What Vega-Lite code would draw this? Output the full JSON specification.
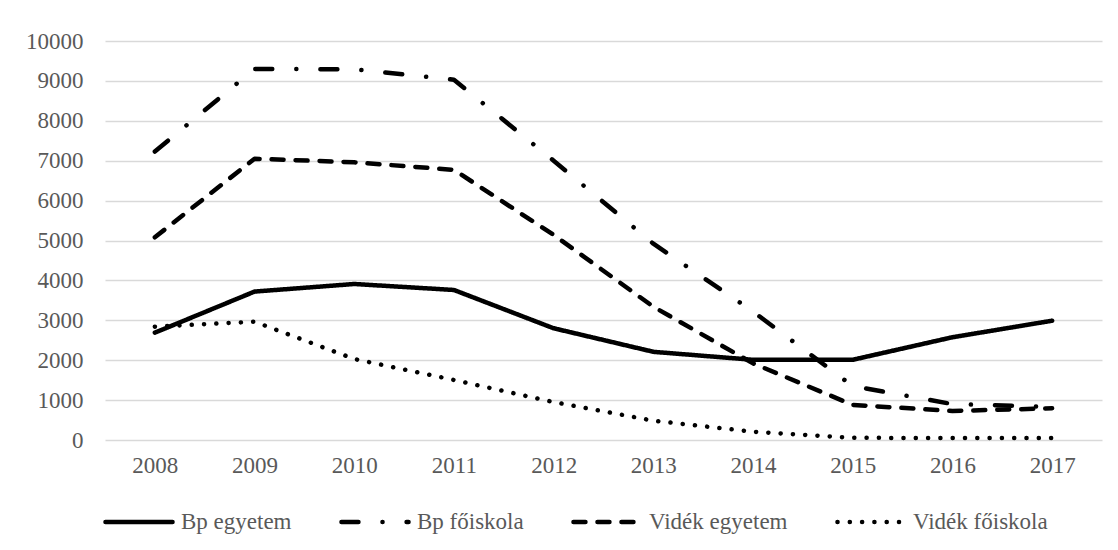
{
  "$schema": "https://vega.github.io/schema/vega-lite/v6.json",
  "width": 997,
  "height": 399,
  "autosize": {"type": "none"},
  "padding": {"left": 105, "top": 41, "right": 16, "bottom": 110},
  "background": "white",
  "config": {
    "font": "Liberation Serif",
    "view": {"stroke": null},
    "axis": {"labelFont": "Liberation Serif", "labelColor": "#595959", "labelFontSize": 23},
    "legend": {"labelFont": "Liberation Serif"}
  },
  "data": {
    "values": [
      {"year": "2008", "series": "Bp egyetem", "value": 2690},
      {"year": "2009", "series": "Bp egyetem", "value": 3720},
      {"year": "2010", "series": "Bp egyetem", "value": 3910},
      {"year": "2011", "series": "Bp egyetem", "value": 3760},
      {"year": "2012", "series": "Bp egyetem", "value": 2800},
      {"year": "2013", "series": "Bp egyetem", "value": 2210},
      {"year": "2014", "series": "Bp egyetem", "value": 2010},
      {"year": "2015", "series": "Bp egyetem", "value": 2010},
      {"year": "2016", "series": "Bp egyetem", "value": 2575},
      {"year": "2017", "series": "Bp egyetem", "value": 2990},
      {"year": "2008", "series": "Bp főiskola", "value": 7230},
      {"year": "2009", "series": "Bp főiskola", "value": 9300},
      {"year": "2010", "series": "Bp főiskola", "value": 9290},
      {"year": "2011", "series": "Bp főiskola", "value": 9030},
      {"year": "2012", "series": "Bp főiskola", "value": 7000},
      {"year": "2013", "series": "Bp főiskola", "value": 4920},
      {"year": "2014", "series": "Bp főiskola", "value": 3220},
      {"year": "2015", "series": "Bp főiskola", "value": 1350},
      {"year": "2016", "series": "Bp főiskola", "value": 900},
      {"year": "2017", "series": "Bp főiskola", "value": 830},
      {"year": "2008", "series": "Vidék egyetem", "value": 5080},
      {"year": "2009", "series": "Vidék egyetem", "value": 7050},
      {"year": "2010", "series": "Vidék egyetem", "value": 6960},
      {"year": "2011", "series": "Vidék egyetem", "value": 6770},
      {"year": "2012", "series": "Vidék egyetem", "value": 5140},
      {"year": "2013", "series": "Vidék egyetem", "value": 3340},
      {"year": "2014", "series": "Vidék egyetem", "value": 1920},
      {"year": "2015", "series": "Vidék egyetem", "value": 880},
      {"year": "2016", "series": "Vidék egyetem", "value": 727},
      {"year": "2017", "series": "Vidék egyetem", "value": 794},
      {"year": "2008", "series": "Vidék főiskola", "value": 2840},
      {"year": "2009", "series": "Vidék főiskola", "value": 2965},
      {"year": "2010", "series": "Vidék főiskola", "value": 2030},
      {"year": "2011", "series": "Vidék főiskola", "value": 1504},
      {"year": "2012", "series": "Vidék főiskola", "value": 950},
      {"year": "2013", "series": "Vidék főiskola", "value": 484},
      {"year": "2014", "series": "Vidék főiskola", "value": 208},
      {"year": "2015", "series": "Vidék főiskola", "value": 55},
      {"year": "2016", "series": "Vidék főiskola", "value": 50},
      {"year": "2017", "series": "Vidék főiskola", "value": 50}
    ]
  },
  "mark": {"type": "line", "color": "black", "strokeWidth": 4.5, "strokeCap": "round", "strokeJoin": "round"},
  "encoding": {
    "x": {
      "field": "year", "type": "ordinal", "title": null,
      "scale": {"type": "point", "padding": 0.5},
      "axis": {"labelAngle": 0, "domain": false, "ticks": false, "labelPadding": 14,
               "labelFont": "Liberation Serif", "labelFontSize": 23, "labelColor": "#595959"}
    },
    "y": {
      "field": "value", "type": "quantitative", "title": null,
      "scale": {"domain": [0, 10000], "nice": false},
      "axis": {
        "values": [0, 1000, 2000, 3000, 4000, 5000, 6000, 7000, 8000, 9000, 10000],
        "format": "d", "domain": false, "ticks": false, "labelPadding": 22,
        "labelFont": "Liberation Serif", "labelFontSize": 23, "labelColor": "#595959",
        "gridColor": "#d9d9d9", "gridWidth": 1.5
      }
    },
    "strokeDash": {
      "field": "series", "type": "nominal",
      "scale": {
        "domain": ["Bp egyetem", "Bp főiskola", "Vidék egyetem", "Vidék főiskola"],
        "range": [[1, 0], [17, 24, 0.1, 24], [12, 12], [0.1, 12.2]]
      },
      "legend": {
        "title": null,
        "orient": "none",
        "direction": "horizontal",
        "legendX": -2,
        "legendY": 445,
        "symbolType": "stroke",
        "symbolSize": 4500,
        "symbolStrokeWidth": 4.5,
        "symbolStrokeColor": "black",
        "labelFont": "Liberation Serif",
        "labelFontSize": 23,
        "labelColor": "#595959",
        "labelOffset": 6,
        "columnPadding": 40,
        "labelLimit": 400,
        "encode": {"symbols": {"update": {"strokeCap": {"value": "round"}}}}
      }
    }
  }
}
